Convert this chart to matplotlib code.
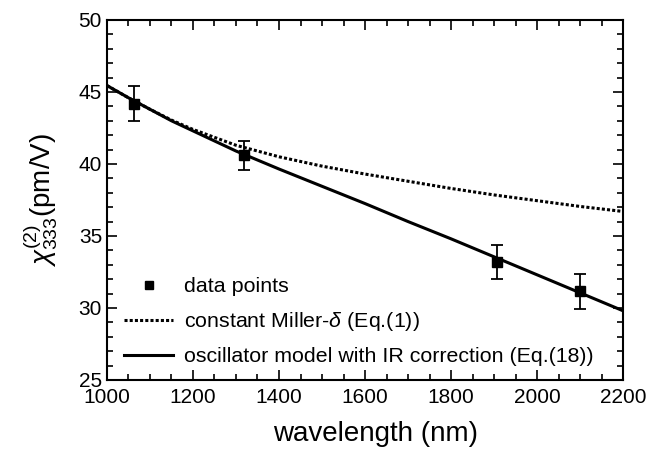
import numpy as np
import matplotlib
matplotlib.use("Agg")
import matplotlib.pyplot as plt
from matplotlib.lines import Line2D
from matplotlib.ticker import MultipleLocator

plt.rcParams['font.family'] = ['Liberation Sans', 'DejaVu Sans']
plt.rcParams['mathtext.fontset'] = 'custom'
plt.rcParams['mathtext.rm'] = 'Liberation Sans'
plt.rcParams['mathtext.it'] = 'Liberation Sans:italic'

# measured chi(2)_333 with error bars
wl_data = [1064, 1319, 1907, 2100]
chi_data = [44.2, 40.6, 33.2, 31.15]
chi_err = [1.2, 1.0, 1.2, 1.2]

# model curves
wl_model = [1000, 1050, 1100, 1150, 1200, 1300, 1400, 1500, 1600, 1700, 1800, 1900, 2000, 2100, 2200]
chi_miller = [45.45, 44.6, 43.8, 43.05, 42.4, 41.3, 40.5, 39.85, 39.3, 38.8, 38.3, 37.85, 37.45, 37.05, 36.7]
chi_osc = [45.45, 44.6, 43.8, 43.0, 42.3, 40.9, 39.65, 38.45, 37.25, 36.0, 34.8, 33.55, 32.3, 31.05, 29.8]

fig = plt.figure(figsize=(6.68, 4.5), dpi=100)
ax = fig.add_axes([0.160, 0.1556, 0.773, 0.80])

ax.errorbar(wl_data, chi_data, yerr=chi_err, fmt='s', color='black', ms=7,
            elinewidth=1.3, capsize=4, capthick=1.3, zorder=3)
l_miller, = ax.plot(wl_model, chi_miller, linestyle=(0, (1, 0.7)), color='black', lw=2.2)
l_osc, = ax.plot(wl_model, chi_osc, '-', color='black', lw=2.2)

ax.set_xlim(1000, 2200)
ax.set_ylim(25, 50)
ax.xaxis.set_major_locator(MultipleLocator(200))
ax.xaxis.set_minor_locator(MultipleLocator(50))
ax.yaxis.set_major_locator(MultipleLocator(5))
ax.yaxis.set_minor_locator(MultipleLocator(1))
ax.tick_params(which='both', direction='in', top=True, right=True, width=1.2, labelsize=15)
ax.tick_params(axis='x', pad=6)
ax.tick_params(which='major', length=7)
ax.tick_params(which='minor', length=4)
for s in ax.spines.values():
    s.set_linewidth(1.5)

ax.set_xlabel('wavelength (nm)', fontsize=20)
ax.xaxis.set_label_coords(0.52, -0.115)
ax.set_ylabel(r'$\chi^{(2)}_{333}$(pm/V)', fontsize=20)
ax.yaxis.set_label_coords(-0.09, 0.5)

pt_handle = Line2D([], [], marker='s', ls='none', color='black', ms=6)
ax.legend([pt_handle, l_miller, l_osc],
          ['data points', r'constant Miller-$\delta$ (Eq.(1))',
           'oscillator model with IR correction (Eq.(18))'],
          loc='lower left', bbox_to_anchor=(0.0, -0.01), frameon=False,
          fontsize=15.4, handlelength=2.3, handletextpad=0.5, labelspacing=0.66,
          borderpad=0.3)

fig.savefig('out.png', dpi=100)
